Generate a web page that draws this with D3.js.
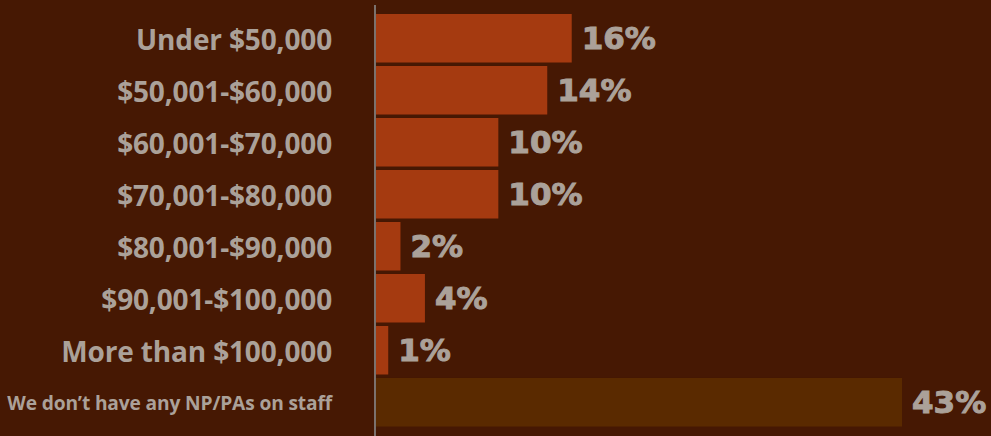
<!DOCTYPE html>
<html><head><meta charset="utf-8">
<script src="https://cdn.jsdelivr.net/npm/d3@7"></script>
<style>html,body{margin:0;padding:0;background:#461803;overflow:hidden}</style>
</head><body><svg id="c" width="991" height="436"></svg>
<script>
const categories = ["Under $50,000","$50,001-$60,000","$60,001-$70,000","$70,001-$80,000","$80,001-$90,000","$90,001-$100,000","More than $100,000","We don\u2019t have any NP/PAs on staff"];
const values = [16,14,10,10,2,4,1,43];
const valueLabels = ["16%","14%","10%","10%","2%","4%","1%","43%"];

const svg = d3.select("#c");
svg.append("rect").attr("width",991).attr("height",436).attr("fill","#461803");
const x0 = 376;
const x = d3.scaleLinear().domain([0,43]).range([x0,902]);
const y = d3.scaleBand().domain(categories).range([14,426.5]).paddingInner(0.067).paddingOuter(0);

svg.selectAll("rect.bar").data(categories).join("rect").attr("class","bar")
  .attr("x",x0).attr("y",d=>y(d)).attr("height",y.bandwidth())
  .attr("width",(d,i)=>x(values[i])-x0)
  .attr("fill",(d,i)=>i===categories.length-1?"#5A2A00":"#A53A10");

svg.append("line").attr("x1",375).attr("x2",375).attr("y1",5).attr("y2",436)
  .attr("stroke","#8a8a8a").attr("stroke-width",1.6);

svg.selectAll("text.cat").data(categories).join("text").attr("class","cat")
  .attr("x",332).attr("y",d=>y(d)+y.bandwidth()/2)
  .attr("dy","0.41em").attr("text-anchor","end")
  .attr("fill","#ABA199").attr("font-family","'Open Sans', sans-serif").attr("font-weight","bold")
  .attr("font-size",(d,i)=>i===categories.length-1?"19.2px":"28px")
  .attr("letter-spacing","-0.15px")
  .text(d=>d);

svg.selectAll("text.val").data(categories).join("text").attr("class","val")
  .attr("x",(d,i)=>x(values[i])+10).attr("y",d=>y(d)+y.bandwidth()/2)
  .attr("dy","0.36em")
  .attr("fill","#ABA199").attr("stroke","#ABA199").attr("stroke-width",1)
  .attr("font-family","DejaVu Sans, sans-serif").attr("font-weight","bold")
  .attr("font-size","31px")
  .text((d,i)=>valueLabels[i]);
</script></body></html>
